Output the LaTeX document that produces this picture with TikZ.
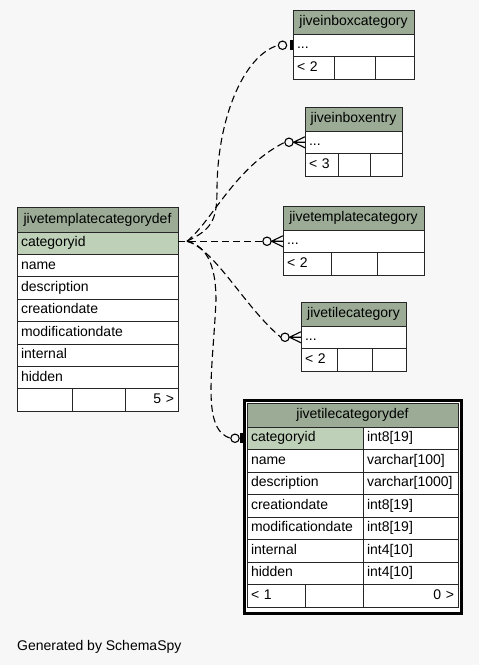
\documentclass[tikz,border=0pt]{standalone}
\usepackage{fontspec}
\setmainfont{Liberation Sans}
\usetikzlibrary{calc}
\definecolor{bgcol}{HTML}{F7F7F7}
\definecolor{headcol}{HTML}{9BAB96}
\definecolor{keycol}{HTML}{BED1B8}
\tikzset{>=latex,
  cell/.style={draw=black!85, line width=0.8pt, fill=white, anchor=north west,
    outer sep=0pt, inner xsep=4pt, inner ysep=0pt, text height=10pt,
    text depth=3pt, align=left, font=\fontsize{14}{16}\selectfont},
  headcell/.style={cell, fill=headcol, align=center},
  keycell/.style={cell, fill=keycol},
  fk/.style={line width=1.1pt, dash pattern=on 7pt off 4pt},
  tip/.style={line width=1.1pt, solid}
}

\begin{document}
\begin{tikzpicture}[x=1pt,y=-1pt]
    \fill[bgcol] (0,0) rectangle (479,665);

    % jiveinboxcategory
    \node[headcell, text width=113pt, minimum height=24pt] (ibc) at (293,10) {jiveinboxcategory};
    \node[cell, text width=113pt, minimum height=22.5pt] (ibcrow) at (293,34) {...};
    \node[cell, text width=33pt, minimum height=22.5pt] (ibcf1) at (293,56.5) {< 2};
    \node[cell, text width=33pt, minimum height=22.5pt] (ibcf2) at (334,56.5) {};
    \node[cell, text width=31pt, minimum height=22.5pt] (ibcf3) at (375,56.5) {};

    % jiveinboxentry
    \node[headcell, text width=89pt, minimum height=24pt] (ibe) at (305,107) {jiveinboxentry};
    \node[cell, text width=89pt, minimum height=22.5pt] (iberow) at (305,131) {...};
    \node[cell, text width=25pt, minimum height=22.5pt] (ibef1) at (305,153.5) {< 3};
    \node[cell, text width=24pt, minimum height=22.5pt] (ibef2) at (338,153.5) {};
    \node[cell, text width=24pt, minimum height=22.5pt] (ibef3) at (370,153.5) {};

    % jivetemplatecategory
    \node[headcell, text width=133pt, minimum height=24pt] (tc) at (283,206) {jivetemplatecategory};
    \node[cell, text width=133pt, minimum height=22.5pt] (tcrow) at (283,230) {...};
    \node[cell, text width=40pt, minimum height=22.5pt] (tcf1) at (283,252.5) {< 2};
    \node[cell, text width=38pt, minimum height=22.5pt] (tcf2) at (331,252.5) {};
    \node[cell, text width=39pt, minimum height=22.5pt] (tcf3) at (377,252.5) {};

    % jivetilecategory
    \node[headcell, text width=97pt, minimum height=24pt] (tlc) at (301,302) {jivetilecategory};
    \node[cell, text width=97pt, minimum height=22.5pt] (tlcrow) at (301,326) {...};
    \node[cell, text width=28pt, minimum height=22.5pt] (tlcf1) at (301,348.5) {< 2};
    \node[cell, text width=27pt, minimum height=22.5pt] (tlcf2) at (337,348.5) {};
    \node[cell, text width=26pt, minimum height=22.5pt] (tlcf3) at (372,348.5) {};

    % jivetemplatecategorydef
    \node[headcell, text width=153pt, minimum height=25pt] (tcd) at (17,207) {jivetemplatecategorydef};
    \node[keycell, text width=153pt, minimum height=22.4pt] (tcdkey) at (17,232) {categoryid};
    \foreach \f [count=\i] in {name,description,creationdate,modificationdate,internal,hidden}
        \node[cell, text width=153pt, minimum height=22.4pt] (tcd\i) at (17,{232+22.4*\i}) {\f};
    \node[cell, text width=47pt, minimum height=22.4pt] (tcdf1) at (17,388.8) {};
    \node[cell, text width=45pt, minimum height=22.4pt] (tcdf2) at (72,388.8) {};
    \node[cell, text width=45pt, minimum height=22.4pt, align=right] (tcdf3) at (125,388.8) {5 >};

    % jivetilecategorydef
    \draw[line width=3pt, fill=white] (244,400) rectangle (461,613);
    \node[headcell, text width=203pt, minimum height=24pt] (tlcd) at (247,403) {jivetilecategorydef};
    \node[keycell, text width=108pt, minimum height=22.5pt] (tlcdkey) at (247,427) {categoryid};
    \node[cell, text width=87pt, minimum height=22.5pt] (tlcdkeyt) at (363,427) {int8[19]};
    \foreach \f/\t [count=\i] in {name/varchar[100],description/varchar[1000],creationdate/int8[19],modificationdate/int8[19],internal/int4[10],hidden/int4[10]} {
        \node[cell, text width=108pt, minimum height=22.5pt] (tlcd\i) at (247,{427+22.5*\i}) {\f};
        \node[cell, text width=87pt, minimum height=22.5pt] (tlcd\i t) at (363,{427+22.5*\i}) {\t};
    }
    \node[cell, text width=50pt, minimum height=22.5pt] (tlcdf1) at (247,584.5) {< 1};
    \node[cell, text width=50pt, minimum height=22.5pt] (tlcdf2) at (305,584.5) {};
    \node[cell, text width=87pt, minimum height=22.5pt, align=right] (tlcdf3) at (363,584.5) {0 >};

    % relations
    \coordinate (src) at ($(tcrow.west -| tcdkey.east)+(9,0)$);
    \draw[fk] (src) .. controls +(25,-12) and +(0,30) .. (217,190)
        .. controls +(0,-70) and +(-35,10) .. ($(ibcrow.west)+(-14.7,0)$);
    \draw[fk] (src) .. controls +(25,-20) and +(-50,25) .. ($(iberow.west)+(-20.2,0)$);
    \draw[fk] (tcrow.west -| tcdkey.east) -- ($(tcrow.west)+(-20.2,0)$);
    \draw[fk] (src) .. controls +(28,8) and +(-36,-30) .. ($(tlcrow.west)+(-20.2,0)$);
    \draw[fk] (src) .. controls +(22,5) and +(0,-30) .. (216,300)
        .. controls +(-3,70) and +(-30,-8) .. ($(tlcdkey.west)+(-16.2,0)$);

    % crow's feet
    \foreach \r in {iberow,tcrow,tlcrow} {
        \draw[tip] ($(\r.west)+(-16,0)$) circle (4.2pt);
        \draw[tip] ($(\r.west)+(0,-5.5)$) -- ($(\r.west)+(-11.5,0)$) -- ($(\r.west)+(0,5.5)$)
            ($(\r.west)+(-11.5,0)$) -- (\r.west);
    }
    % zero or one
    \draw[tip] ($(ibcrow.west)+(-10.5,0)$) circle (4.2pt);
    \fill ($(ibcrow.west)+(-3.5,-5)$) rectangle ($(ibcrow.west)+(-0.5,5)$);
    \draw[tip] ($(tlcdkey.west)+(-12,0)$) circle (4.2pt);
    \fill ($(tlcdkey.west)+(-7.5,-5)$) rectangle ($(tlcdkey.west)+(-4.5,5)$);

    \node[anchor=base west, inner sep=0pt, font=\fontsize{14}{16}\selectfont] (gen) at (17,650) {Generated by SchemaSpy};
\end{tikzpicture}
\end{document}
